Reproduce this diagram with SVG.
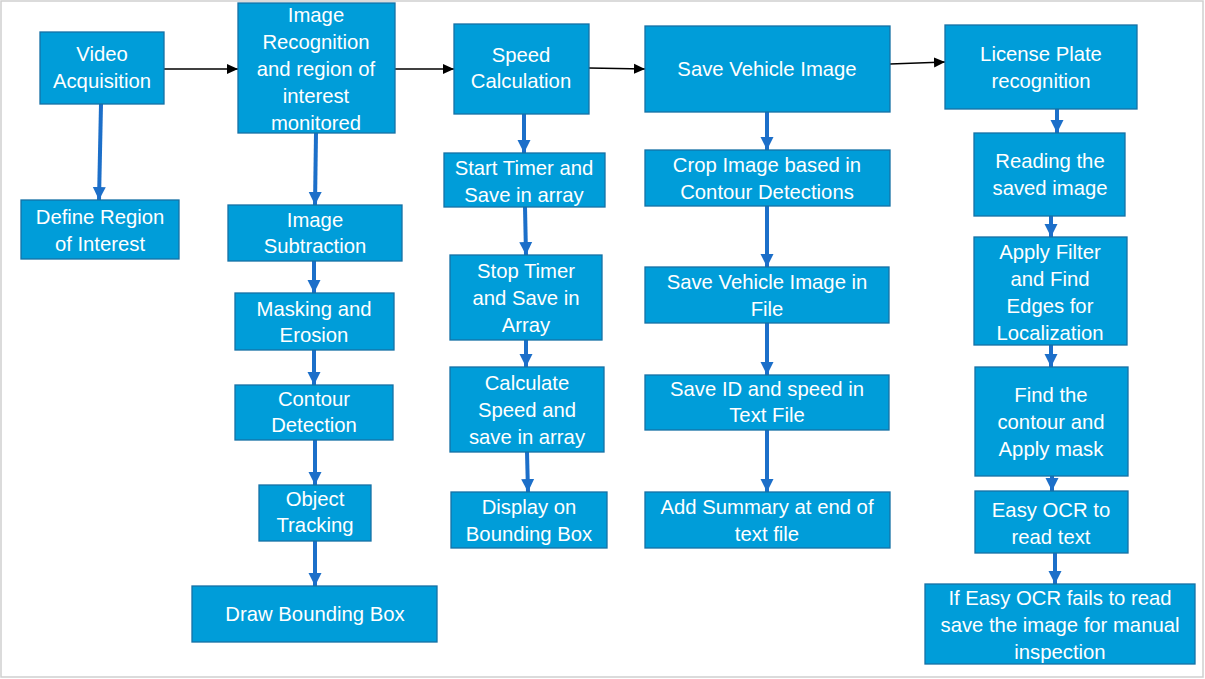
<svg xmlns="http://www.w3.org/2000/svg" width="1205" height="679" viewBox="0 0 1205 679">
<defs>
<style>
.b{fill:#009DD9;stroke:#1470A5;stroke-width:1.3}
.t{font-family:"Liberation Sans",Arial,sans-serif;font-size:20.3px;fill:#fff;text-anchor:middle}
.v{stroke:#1C6FC9;stroke-width:4;fill:none}
.h{stroke:#000;stroke-width:1.4;fill:none}
</style>
<marker id="ab" markerUnits="userSpaceOnUse" markerWidth="14" markerHeight="14" viewBox="0 0 14 14" refX="13" refY="7" orient="auto"><path d="M0,0.5 L13,7 L0,13.5 Z" fill="#1C6FC9"/></marker>
<marker id="ak" markerUnits="userSpaceOnUse" markerWidth="12" markerHeight="12" viewBox="0 0 12 12" refX="11" refY="6" orient="auto"><path d="M0,1 L11,6 L0,11 Z" fill="#000"/></marker>
</defs>
<rect x="0" y="0" width="1205" height="679" fill="#fff"/>
<rect x="1" y="1" width="1202" height="676" fill="none" stroke="#CFCFCF" stroke-width="1.5"/>
<g id="connectors">
<path class="h" d="M164,69 L238,69" marker-end="url(#ak)"/>
<path class="h" d="M395,69 L454,69" marker-end="url(#ak)"/>
<path class="h" d="M589,68 L645,69" marker-end="url(#ak)"/>
<path class="h" d="M890,64 L945,62" marker-end="url(#ak)"/>
<path class="v" d="M101,104 L99,200" marker-end="url(#ab)"/>
<path class="v" d="M316,133 L315,205" marker-end="url(#ab)"/>
<path class="v" d="M314,261 L314,293" marker-end="url(#ab)"/>
<path class="v" d="M314,350 L314,385" marker-end="url(#ab)"/>
<path class="v" d="M315,440 L315,485" marker-end="url(#ab)"/>
<path class="v" d="M315,541 L315,586" marker-end="url(#ab)"/>
<path class="v" d="M524,114 L524,153" marker-end="url(#ab)"/>
<path class="v" d="M525,207 L526,255" marker-end="url(#ab)"/>
<path class="v" d="M526,340 L526,367" marker-end="url(#ab)"/>
<path class="v" d="M527,452 L528,492" marker-end="url(#ab)"/>
<path class="v" d="M767,112 L767,150" marker-end="url(#ab)"/>
<path class="v" d="M767,206 L767,267" marker-end="url(#ab)"/>
<path class="v" d="M767,323 L767,375" marker-end="url(#ab)"/>
<path class="v" d="M767,430 L767,492" marker-end="url(#ab)"/>
<path class="v" d="M1057,109 L1057,133" marker-end="url(#ab)"/>
<path class="v" d="M1051,216 L1051,237" marker-end="url(#ab)"/>
<path class="v" d="M1051,345 L1051,367" marker-end="url(#ab)"/>
<path class="v" d="M1052,476 L1052,491" marker-end="url(#ab)"/>
<path class="v" d="M1055,553 L1055,584" marker-end="url(#ab)"/>
</g>
<g id="n1"><rect class="b" x="40" y="32" width="124" height="72"/><text class="t" x="102" y="61">Video</text><text class="t" x="102" y="88">Acquisition</text></g>
<g id="n2"><rect class="b" x="21" y="200" width="158" height="59"/><text class="t" x="100" y="224">Define Region</text><text class="t" x="100" y="251">of Interest</text></g>
<g id="n3"><rect class="b" x="238" y="3" width="157" height="130"/><text class="t" x="316" y="22">Image</text><text class="t" x="316" y="49">Recognition</text><text class="t" x="316" y="76">and region of</text><text class="t" x="316" y="103">interest</text><text class="t" x="316" y="130">monitored</text></g>
<g id="n4"><rect class="b" x="228" y="205" width="174" height="56"/><text class="t" x="315" y="227">Image</text><text class="t" x="315" y="253">Subtraction</text></g>
<g id="n5"><rect class="b" x="235" y="293" width="159" height="57"/><text class="t" x="314" y="316">Masking and</text><text class="t" x="314" y="342">Erosion</text></g>
<g id="n6"><rect class="b" x="235" y="385" width="158" height="55"/><text class="t" x="314" y="406">Contour</text><text class="t" x="314" y="432">Detection</text></g>
<g id="n7"><rect class="b" x="259" y="485" width="112" height="56"/><text class="t" x="315" y="506">Object</text><text class="t" x="315" y="532">Tracking</text></g>
<g id="n8"><rect class="b" x="192" y="586" width="245" height="56"/><text class="t" x="315" y="621">Draw Bounding Box</text></g>
<g id="n9"><rect class="b" x="454" y="24" width="135" height="90"/><text class="t" x="521" y="62">Speed</text><text class="t" x="521" y="88">Calculation</text></g>
<g id="n10"><rect class="b" x="444" y="153" width="161" height="54"/><text class="t" x="524" y="175">Start Timer and</text><text class="t" x="524" y="202">Save in array</text></g>
<g id="n11"><rect class="b" x="450" y="255" width="152" height="85"/><text class="t" x="526" y="278">Stop Timer</text><text class="t" x="526" y="305">and Save in</text><text class="t" x="526" y="332">Array</text></g>
<g id="n12"><rect class="b" x="450" y="367" width="154" height="85"/><text class="t" x="527" y="390">Calculate</text><text class="t" x="527" y="417">Speed and</text><text class="t" x="527" y="444">save in array</text></g>
<g id="n13"><rect class="b" x="451" y="492" width="156" height="56"/><text class="t" x="529" y="514">Display on</text><text class="t" x="529" y="541">Bounding Box</text></g>
<g id="n14"><rect class="b" x="645" y="26" width="245" height="86"/><text class="t" x="767" y="76">Save Vehicle Image</text></g>
<g id="n15"><rect class="b" x="645" y="150" width="245" height="56"/><text class="t" x="767" y="172">Crop Image based in</text><text class="t" x="767" y="199">Contour Detections</text></g>
<g id="n16"><rect class="b" x="645" y="267" width="244" height="56"/><text class="t" x="767" y="289">Save Vehicle Image in</text><text class="t" x="767" y="316">File</text></g>
<g id="n17"><rect class="b" x="645" y="375" width="244" height="55"/><text class="t" x="767" y="396">Save ID and speed  in</text><text class="t" x="767" y="422">Text File</text></g>
<g id="n18"><rect class="b" x="645" y="492" width="245" height="56"/><text class="t" x="767" y="514">Add Summary at end of</text><text class="t" x="767" y="541">text file</text></g>
<g id="n19"><rect class="b" x="945" y="25" width="192" height="84"/><text class="t" x="1041" y="61">License Plate</text><text class="t" x="1041" y="88">recognition</text></g>
<g id="n20"><rect class="b" x="974" y="133" width="151" height="83"/><text class="t" x="1050" y="168">Reading the</text><text class="t" x="1050" y="195">saved image</text></g>
<g id="n21"><rect class="b" x="974" y="237" width="153" height="108"/><text class="t" x="1050" y="259">Apply Filter</text><text class="t" x="1050" y="286">and Find</text><text class="t" x="1050" y="313">Edges for</text><text class="t" x="1050" y="340">Localization</text></g>
<g id="n22"><rect class="b" x="975" y="367" width="153" height="109"/><text class="t" x="1051" y="402">Find the</text><text class="t" x="1051" y="429">contour and</text><text class="t" x="1051" y="456">Apply mask</text></g>
<g id="n23"><rect class="b" x="975" y="491" width="153" height="62"/><text class="t" x="1051" y="517">Easy OCR to</text><text class="t" x="1051" y="544">read text</text></g>
<g id="n24"><rect class="b" x="925" y="584" width="270" height="80"/><text class="t" x="1060" y="605">If Easy OCR fails to read</text><text class="t" x="1060" y="632">save the image for manual</text><text class="t" x="1060" y="659">inspection</text></g>
</svg>
